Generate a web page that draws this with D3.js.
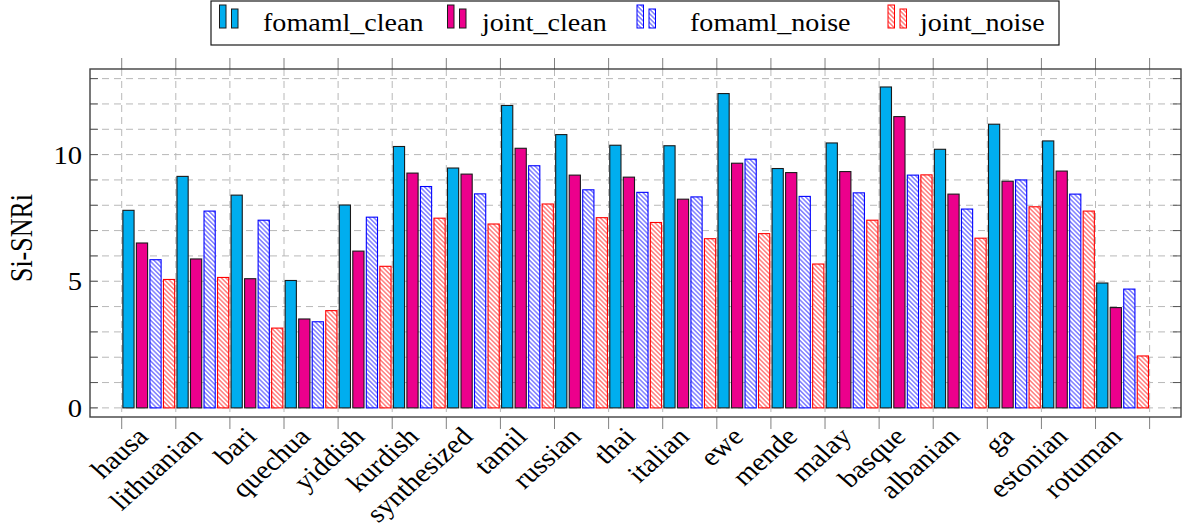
<!DOCTYPE html>
<html>
<head>
<meta charset="utf-8">
<script src="https://cdn.jsdelivr.net/npm/d3@7"></script>
<style>
  html, body { margin: 0; padding: 0; background: #fff; }
  svg { display: block; }
  text { font-family: "Liberation Serif", "Times New Roman", serif; fill: #000; }
</style>
</head>
<body>
<svg id="chart" width="1186" height="530"></svg>
<script>
const categories = ["hausa","lithuanian","bari","quechua","yiddish","kurdish","synthesized","tamil","russian","thai","italian","ewe","mende","malay","basque","albanian","ga","estonian","rotuman"];
const seriesNames = ["fomaml_clean","joint_clean","fomaml_noise","joint_noise"];
const fomamlClean = [7.80, 9.14, 8.40, 5.03, 8.01, 10.32, 9.47, 11.94, 10.79, 10.37, 10.35, 12.41, 9.45, 10.46, 12.67, 10.21, 11.20, 10.54, 4.93];
const jointClean  = [6.51, 5.88, 5.10, 3.51, 6.19, 9.27, 9.23, 10.25, 9.19, 9.11, 8.24, 9.66, 9.29, 9.33, 11.50, 8.44, 8.95, 9.35, 3.96];
const fomamlNoise = [5.85, 7.77, 7.41, 3.40, 7.53, 8.74, 8.45, 9.56, 8.61, 8.51, 8.33, 9.82, 8.35, 8.49, 9.19, 7.85, 9.00, 8.44, 4.69];
const jointNoise  = [5.07, 5.15, 3.15, 3.84, 5.59, 7.49, 7.26, 8.05, 7.51, 7.32, 6.68, 6.88, 5.68, 7.41, 9.20, 6.70, 7.94, 7.77, 2.05];
const yMajorTicks = [0, 5, 10];
const yLabel = "Si-SNRi";

const series = [fomamlClean, jointClean, fomamlNoise, jointNoise];
const styles = [
  {fill: "#00AEEF", stroke: "#1a1a1a"},
  {fill: "#EC008C", stroke: "#1a1a1a"},
  {fill: "url(#hatchBlue)", stroke: "#0000ff"},
  {fill: "url(#hatchRed)", stroke: "#ff0000"}
];

const FS = 26;     // label font size
const SX = 1.12;   // horizontal stretch of the reference text
const svg = d3.select("#chart");
svg.append("rect").attr("width", 1186).attr("height", 530).attr("fill", "#fff");

const defs = svg.append("defs");
function hatch(id, color) {
  const s = 3.2;
  const p = defs.append("pattern").attr("id", id)
    .attr("patternUnits", "userSpaceOnUse")
    .attr("width", s).attr("height", s)
    .attr("patternTransform", "rotate(45)");
  p.append("rect").attr("width", s).attr("height", s).attr("fill", "#fff");
  p.append("line").attr("x1", 0).attr("y1", s / 2).attr("x2", s).attr("y2", s / 2)
    .attr("stroke", color).attr("stroke-width", 0.75);
}
hatch("hatchBlue", "#0000ff");
hatch("hatchRed", "#ff0000");

const L = 90, R = 1181, T = 69, B = 417;
const x = d3.scaleLinear().domain([-0.586, 19.58]).range([L, R]);
const y = d3.scaleLinear().domain([-0.36, 13.38]).range([B, T]);

const grid = svg.append("g");
const yMinor = d3.range(0, 14);
grid.selectAll("line.h").data(yMinor).enter().append("line")
  .attr("x1", L).attr("x2", R).attr("y1", d => y(d)).attr("y2", d => y(d))
  .attr("stroke", "#b8b8b8").attr("stroke-width", 1).attr("stroke-dasharray", "7,5");
const xTickIdx = d3.range(0, 20);
grid.selectAll("line.v").data(xTickIdx).enter().append("line")
  .attr("x1", d => x(d)).attr("x2", d => x(d)).attr("y1", T).attr("y2", B)
  .attr("stroke", "#b8b8b8").attr("stroke-width", 1).attr("stroke-dasharray", "7,5");

// bars
const bw = 0.207;
series.forEach((vals, j) => {
  svg.append("g").selectAll("rect").data(vals).enter().append("rect")
    .attr("x", (d, i) => x(i + (j + 0.5) * 0.25 - bw / 2))
    .attr("width", x(bw) - x(0))
    .attr("y", d => y(d))
    .attr("height", d => y(0) - y(d))
    .attr("fill", styles[j].fill)
    .attr("stroke", styles[j].stroke)
    .attr("stroke-width", 1.1);
});

// frame & ticks
const ax = svg.append("g");
ax.selectAll("line.yl").data(yMinor).enter().append("line")
  .attr("x1", L).attr("x2", L + 8).attr("y1", d => y(d)).attr("y2", d => y(d))
  .attr("stroke", "#555").attr("stroke-width", 1);
ax.selectAll("line.yr").data(yMinor).enter().append("line")
  .attr("x1", R - 8).attr("x2", R).attr("y1", d => y(d)).attr("y2", d => y(d))
  .attr("stroke", "#555").attr("stroke-width", 1);
ax.selectAll("line.xt").data(xTickIdx).enter().append("line")
  .attr("x1", d => x(d)).attr("x2", d => x(d)).attr("y1", T - 11).attr("y2", T)
  .attr("stroke", "#808080").attr("stroke-width", 1);
ax.selectAll("line.xb").data(xTickIdx).enter().append("line")
  .attr("x1", d => x(d)).attr("x2", d => x(d)).attr("y1", B).attr("y2", B + 12)
  .attr("stroke", "#808080").attr("stroke-width", 1);
ax.append("rect").attr("x", L).attr("y", T).attr("width", R - L).attr("height", B - T)
  .attr("fill", "none").attr("stroke", "#404040").attr("stroke-width", 1.4);

// y labels
ax.selectAll("text.yt").data(yMajorTicks).enter().append("text")
  .attr("transform", d => `translate(${L - 8}, ${y(d)}) scale(1.1,1)`)
  .attr("dy", "0.35em")
  .attr("text-anchor", "end").attr("font-size", 26).text(d => d);
svg.append("text").attr("transform", `translate(31.5, 238) scale(1.2,1) rotate(-90)`)
  .attr("text-anchor", "middle").attr("font-size", 26).text(yLabel);

// x labels
ax.selectAll("text.xl").data(categories).enter().append("text")
  .attr("transform", (d, i) => `translate(${x(i) + 28}, 438) scale(${SX},1) rotate(-45)`)
  .attr("text-anchor", "end").attr("font-size", FS).text(d => d);

// legend
const lg = svg.append("g");
lg.append("rect").attr("x", 211).attr("y", 1).attr("width", 848).attr("height", 44)
  .attr("fill", "#fff").attr("stroke", "#1a1a1a").attr("stroke-width", 1.2);
const legX = [219.5, 447.5, 637, 888];
const legTextX = [263, 482, 690, 920];
seriesNames.forEach((name, j) => {
  const g = lg.append("g");
  g.append("rect").attr("x", legX[j]).attr("y", 5).attr("width", 6.5).attr("height", 23)
    .attr("fill", styles[j].fill).attr("stroke", styles[j].stroke).attr("stroke-width", 1);
  g.append("rect").attr("x", legX[j] + 12).attr("y", 9).attr("width", 6.5).attr("height", 19)
    .attr("fill", styles[j].fill).attr("stroke", styles[j].stroke).attr("stroke-width", 1);
  g.append("text").attr("transform", `translate(${legTextX[j]}, 30.5) scale(1.08,1)`)
    .attr("font-size", 26).text(name);
});
</script>
</body>
</html>
